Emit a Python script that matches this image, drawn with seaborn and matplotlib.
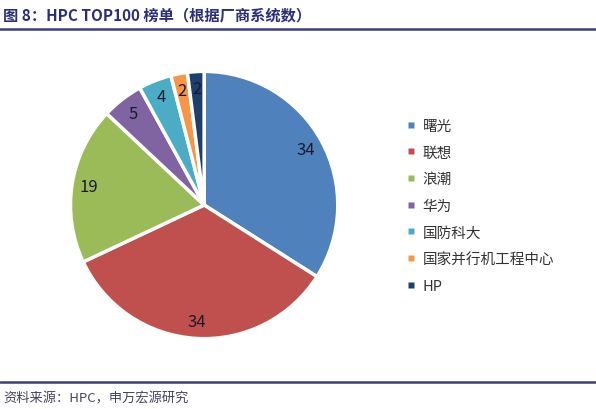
import matplotlib
matplotlib.use("Agg")
import matplotlib.pyplot as plt
import seaborn as sns

# data
vendors = ["曙光", "联想", "浪潮", "华为", "国防科大", "国家并行机工程中心", "HP"]
counts = [34, 34, 19, 5, 4, 2, 2]
colors = ["#4F81BD", "#C0504D", "#9BBB59", "#8064A2", "#4BACC6", "#F79646", "#1F3F6B"]

title = "图 8：HPC TOP100 榜单（根据厂商系统数）"
source = "资料来源：HPC，申万宏源研究"

sns.set_theme(style="white")
plt.rcParams['font.family'] = ['Noto Sans CJK SC', 'DejaVu Sans']

fig = plt.figure(figsize=(5.96, 4.10), dpi=100)
ax = fig.add_axes([0.116, 0.168, 0.453, 0.659])

wedges, texts = ax.pie(counts, colors=colors, startangle=90, counterclock=False,
                       wedgeprops=dict(edgecolor="white", linewidth=2.5),
                       labels=[str(c) for c in counts], labeldistance=0.87,
                       textprops=dict(fontsize=12, color="#1a1a2e", ha="center", va="center"))
ax.set_aspect("equal")
ax.set_xlim(-1.01, 1.01)
ax.set_ylim(-1.01, 1.01)

# legend with small square markers
handles = [plt.Line2D([0], [0], marker="s", color="none", markerfacecolor=c,
                      markeredgecolor="none", markersize=5) for c in colors]
fig.legend(handles, vendors, loc="upper left", bbox_to_anchor=(0.66, 0.74),
           frameon=False, fontsize=10.5, handlelength=0.6, handletextpad=0.5,
           labelspacing=0.87, labelcolor="#333333")

# title and rules
fig.text(0.005, 0.962, title, fontsize=11, fontweight="bold", color="#2B2F7A",
         ha="left", va="center")
fig.add_artist(plt.Line2D([0, 1], [0.926, 0.926], color="#3A3F7F", linewidth=1.8))
fig.add_artist(plt.Line2D([0, 1], [0.066, 0.066], color="#3A3F7F", linewidth=1.8))
fig.text(0.005, 0.028, source, fontsize=9.5, color="#444466", ha="left", va="center")

fig.savefig("out.png", dpi=100)
